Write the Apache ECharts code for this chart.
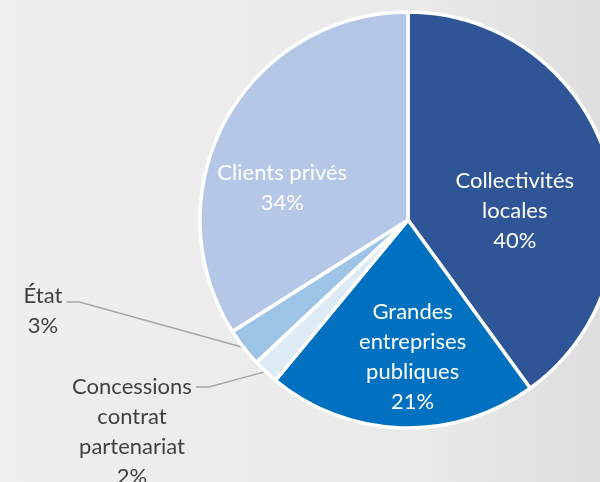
<!DOCTYPE html>
<html>
<head>
<meta charset="utf-8">
<script src="https://cdn.jsdelivr.net/npm/echarts@6/dist/echarts.min.js"></script>
<style>
  html, body { margin: 0; padding: 0; }
  #chart { width: 600px; height: 482px; }
</style>
</head>
<body>
<div id="chart"></div>
<script>
  // slices, clockwise from 12 o'clock
  var categories = ['Collectivités\nlocales', 'Grandes\nentreprises\npubliques', 'Concessions\ncontrat\npartenariat', 'État', 'Clients privés']
  var values = [40, 21, 2, 3, 34]
  var colors = ['#2f5597', '#0070c0', '#deebf7', '#9dc3e6', '#b4c7e7']

  // label placement (per slice): inside labels get nudged, outside ones get a fixed spot
  var insideShift = [[5, 24], [8, 30], null, null, [-32, 19]]
  var outsideSpot = [null, null, [132, 372], [43, 281], null]
  var leaderDrop = [0, 0, 15, 21, 0]

  var chart = echarts.init(document.getElementById('chart'))

  var data = categories.map(function (name, i) {
    var outside = outsideSpot[i] !== null
    return {
      name: name,
      value: values[i],
      itemStyle: { color: colors[i] },
      label: {
        position: outside ? 'outside' : 'inside',
        color: outside ? '#404040' : '#ffffff'
      },
      labelLine: { show: outside }
    }
  })

  var option = {
    backgroundColor: {
      type: 'linear', x: 0, y: 0, x2: 1, y2: 0,
      colorStops: [
        { offset: 0, color: '#efefef' },
        { offset: 0.7, color: '#eaeaea' },
        { offset: 1, color: '#dedede' }
      ]
    },
    animation: false,
    series: [{
      type: 'pie',
      center: [408, 220],
      radius: 208,
      startAngle: 90,
      clockwise: true,
      avoidLabelOverlap: false,
      itemStyle: {
        borderColor: '#ffffff',
        borderWidth: 3.5
      },
      label: {
        formatter: '{b}\n{c}%',
        fontFamily: 'Lato',
        fontSize: 22,
        lineHeight: 30,
        align: 'center'
      },
      labelLine: {
        lineStyle: { color: '#a6a6a6', width: 1.4 }
      },
      labelLayout: function (params) {
        var i = params.dataIndex
        if (outsideSpot[i]) {
          var spot = outsideSpot[i]
          var w = params.labelRect.width
          var p0 = params.labelLinePoints ? params.labelLinePoints[0] : [0, 0]
          var lineY = spot[1] + leaderDrop[i]
          return {
            x: spot[0],
            y: spot[1],
            align: 'center',
            verticalAlign: 'top',
            labelLinePoints: [p0, [spot[0] + w / 2 + 17, lineY], [spot[0] + w / 2 + 4, lineY]]
          }
        }
        return { dx: insideShift[i][0], dy: insideShift[i][1] }
      },
      data: data
    }]
  }

  chart.setOption(option)
</script>
</body>
</html>
